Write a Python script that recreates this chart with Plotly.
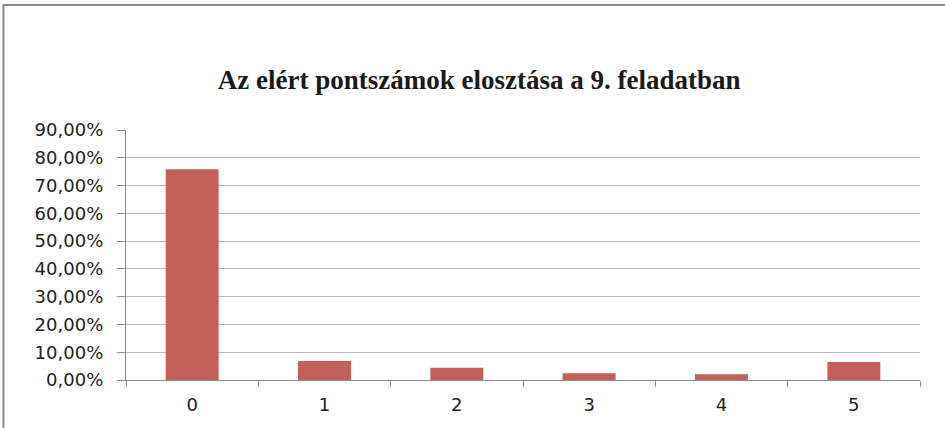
import plotly.graph_objects as go

categories = ["0", "1", "2", "3", "4", "5"]
shares = [0.759, 0.068, 0.044, 0.024, 0.0205, 0.065]
title_text = "Az elért pontszámok elosztása a 9. feladatban"

fig = go.Figure(go.Bar(x=categories, y=shares, marker=dict(color="#C45F5C", line=dict(width=0)),
                       hoverinfo="x+y"))

fig.update_layout(
    width=945, height=428,
    margin=dict(l=126, r=25, t=130, b=48),
    paper_bgcolor="white", plot_bgcolor="white",
    separators=", ",
    bargap=0.6,
    showlegend=False,
    title=dict(text="<b>" + title_text + "</b>", x=0.507, xanchor="center", y=0.813, yanchor="middle",
               font=dict(family="Liberation Serif", size=27, color="#1a1a1a")),
    font=dict(family="DejaVu Sans", size=16, color="#222222"),
)
fig.update_yaxes(range=[0, 0.9], dtick=0.1, tick0=0, tickformat=".2%",
                 showgrid=True, gridcolor="#BABABA", gridwidth=1.3,
                 showline=True, linecolor="#8C8C8C", linewidth=1.3,
                 ticks="outside", ticklen=8, tickcolor="#8C8C8C",
                 ticklabelstandoff=10, zeroline=False,
                 tickfont=dict(family="DejaVu Sans", size=18, color="#222222"))
fig.update_xaxes(showline=True, linecolor="#8C8C8C", linewidth=1.3,
                 ticks="outside", tickson="boundaries", ticklen=6, tickcolor="#8C8C8C",
                 showgrid=False, ticklabelstandoff=8,
                 tickfont=dict(family="DejaVu Sans", size=18, color="#222222"))

# outer chart frame
fig.add_shape(type="rect", xref="paper", yref="paper",
              x0=(3.5 - 126) / 794, x1=(960 - 126) / 794,
              y0=(380 - 440) / 250, y1=(380 - 5) / 250,
              line=dict(color="#8A8A8A", width=2), fillcolor="rgba(0,0,0,0)", layer="below")

fig.write_html("out.html", config={"displayModeBar": False},
               post_script="document.body.style.margin='0';")
